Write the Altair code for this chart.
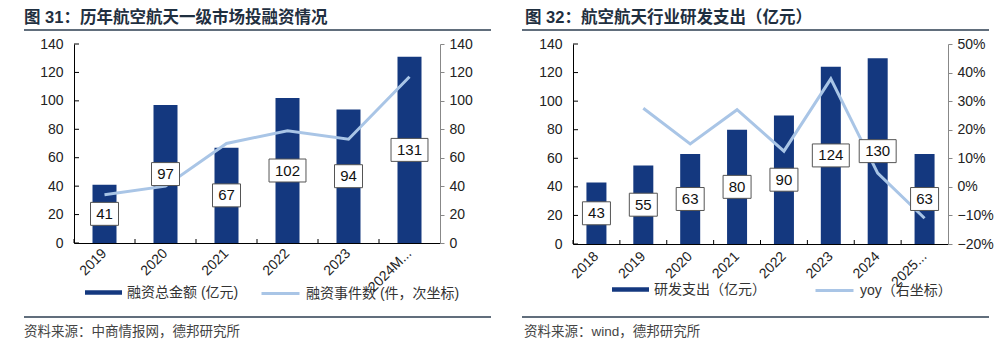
import altair as alt
import pandas as pd

# ---------------- data ----------------
years1 = ["2019", "2020", "2021", "2022", "2023", "2024M..."]
funding = [41, 97, 67, 102, 94, 131]
events = [34, 40, 70, 79, 73, 117]

years2 = ["2018", "2019", "2020", "2021", "2022", "2023", "2024", "2025..."]
rd = [43, 55, 63, 80, 90, 124, 130, 63]
yoy = [None, 0.275, 0.15, 0.27, 0.125, 0.378, 0.048, -0.11]

left_ticks = [0, 20, 40, 60, 80, 100, 120, 140]
right_ticks1 = [0, 20, 40, 60, 80, 100, 120, 140]
right_ticks2 = [-0.2, -0.1, 0.0, 0.1, 0.2, 0.3, 0.4, 0.5]

NAVY = "#14387f"
LIGHT = "#a9c5e6"
CJK = "Noto Sans CJK SC"
LAT = "Liberation Sans"
MIX = "Liberation Sans, Noto Sans CJK SC"

PATH2 = "M-1,-0.82H1V0.82H-1Z"
PATH3 = "M-1.32,-0.82H1.32V0.82H-1.32Z"
BAR_SYM = "M-1,-0.125H1V0.125H-1Z"


def panel(cats, bars, line, bar_name, line_name, W, H, bar_size,
          rdom, rvals, rfmt, title, source, g):
    df = pd.DataFrame({"cat": cats, "bar": bars, "line": line,
                       "bs": [bar_name] * len(cats), "ls": [line_name] * len(cats)})

    xaxis = alt.Axis(title=None, labelAngle=315, labelAlign="right", labelBaseline="middle",
                     labelFont=LAT, labelFontSize=14, labelColor="#222", labelPadding=g["xlp"],
                     labelOverlap=False, ticks=False, domainColor="#000", domainWidth=1)
    xs = alt.Scale(paddingInner=0, paddingOuter=0)

    def X(**kw):
        return alt.X("cat:N", sort=cats, scale=xs, axis=xaxis, **kw)

    ldom = alt.Scale(domain=[0, 140], nice=False, zero=False)

    bar = alt.Chart(df).mark_bar(size=bar_size).encode(
        x=X(),
        y=alt.Y("bar:Q", scale=ldom,
                axis=alt.Axis(orient="left", values=left_ticks, title=None, ticks=False,
                              labelPadding=11, labelFont=LAT, labelFontSize=14,
                              labelColor="#222", domainColor="#000", grid=False)),
        fill=alt.Fill("bs:N", scale=alt.Scale(domain=[bar_name], range=[NAVY]),
                      legend=alt.Legend(orient="none", legendX=g["blx"], legendY=g["bly"],
                                        title=None, labelFont=MIX, labelFontSize=14,
                                        labelColor="#333", symbolType=BAR_SYM,
                                        symbolSize=1369, symbolStrokeWidth=0,
                                        labelOffset=5, padding=0)),
    )

    xt = alt.Chart(df).mark_rule(color="#000", strokeWidth=1).encode(
        x=X(bandPosition=0),
        y=alt.value(H), y2=alt.value(H - 4),
    )

    tdf = pd.DataFrame({"t": left_ticks})
    yt = alt.Chart(tdf).mark_rule(color="#000", strokeWidth=1).encode(
        y=alt.Y("t:Q", scale=ldom, axis=None),
        x=alt.value(0), x2=alt.value(5),
    )

    ln = alt.Chart(df).mark_line(strokeWidth=3).encode(
        x=X(),
        y=alt.Y("line:Q", scale=alt.Scale(domain=rdom, nice=False, zero=False),
                axis=alt.Axis(orient="right", values=rvals, format=rfmt, title=None,
                              tickSize=4, tickColor="#888", domainColor="#888",
                              labelPadding=5, labelFont=LAT, labelFontSize=14,
                              labelColor="#222", grid=False)),
        stroke=alt.Stroke("ls:N", scale=alt.Scale(domain=[line_name], range=[LIGHT]),
                          legend=alt.Legend(orient="none", legendX=g["llx"], legendY=g["lly"],
                                            title=None, labelFont=MIX, labelFontSize=14,
                                            labelColor="#333", symbolType="stroke",
                                            symbolSize=1444, symbolStrokeWidth=3,
                                            labelOffset=5, padding=0)),
    )

    box = alt.Chart(df).transform_calculate(mid="datum.bar/2").mark_point(
        filled=True, fill="white", stroke="#555", strokeWidth=1, opacity=1,
        fillOpacity=1, size=784).encode(
        x=X(),
        y=alt.Y("mid:Q", scale=ldom, axis=None),
        shape=alt.condition("datum.bar >= 100", alt.value(PATH3), alt.value(PATH2)),
    )

    txt = alt.Chart(df).transform_calculate(mid="datum.bar/2").mark_text(
        font=LAT, fontSize=15, color="#111", baseline="middle", align="center").encode(
        x=X(),
        y=alt.Y("mid:Q", scale=ldom, axis=None),
        text="bar:Q",
    )

    one = pd.DataFrame({"t": [title], "s": [source]})
    ttl = alt.Chart(one).mark_text(align="left", baseline="alphabetic", font=MIX,
                                   fontSize=16.5, fontWeight="bold", color="#1f2f40").encode(
        x=alt.value(g["tx"]), y=alt.value(g["ty"]), text="t:N")
    src = alt.Chart(one).mark_text(align="left", baseline="alphabetic", font=MIX,
                                   fontSize=13.5, color="#444").encode(
        x=alt.value(g["sx"]), y=alt.value(g["sy"]), text="s:N")
    r1 = alt.Chart(one).mark_rule(color="#2d3e50", strokeWidth=1.5).encode(
        x=alt.value(g["rx1"]), x2=alt.value(g["rx2"]), y=alt.value(g["ry1"]))
    r2 = alt.Chart(one).mark_rule(color="#2d3e50", strokeWidth=1.5).encode(
        x=alt.value(g["rx1"]), x2=alt.value(g["rx2"]), y=alt.value(g["ry2"]))

    return alt.layer(ttl, src, r1, r2, bar, xt, yt, ln, box, txt).resolve_scale(
        y="independent").properties(width=W, height=H)


g1 = dict(xlp=8, blx=11, bly=230, llx=186, lly=229, tx=-50, ty=-21, sx=-50, sy=292,
          rx1=-50, rx2=417, ry1=-14, ry2=273)
g2 = dict(xlp=10, blx=39, bly=227, llx=241, lly=226, tx=-48, ty=-21, sx=-49, sy=292,
          rx1=-51, rx2=416, ry1=-14, ry2=273)

p1 = panel(years1, funding, events, "融资总金额 (亿元)", "融资事件数 (件，次坐标)",
           366, 199, 24, [0, 140], right_ticks1, "d",
           "图 31：历年航空航天一级市场投融资情况", "资料来源：中商情报网，德邦研究所", g1)
p2 = panel(years2, rd, yoy, "研发支出（亿元）", "yoy（右坐标）",
           375, 200, 20, [-0.2, 0.5], right_ticks2, ".0%",
           "图 32：航空航天行业研发支出（亿元）", "资料来源：wind，德邦研究所", g2)

chart = alt.hconcat(p1, p2, spacing=29).resolve_scale(
    fill="independent", stroke="independent"
).resolve_legend(fill="independent", stroke="independent").properties(
    padding={"left": 15, "top": 2, "right": 0, "bottom": 0}
).configure_view(stroke=None).configure_axis(grid=False)

chart.save("out.html", embed_options={"renderer": "svg", "actions": False})
